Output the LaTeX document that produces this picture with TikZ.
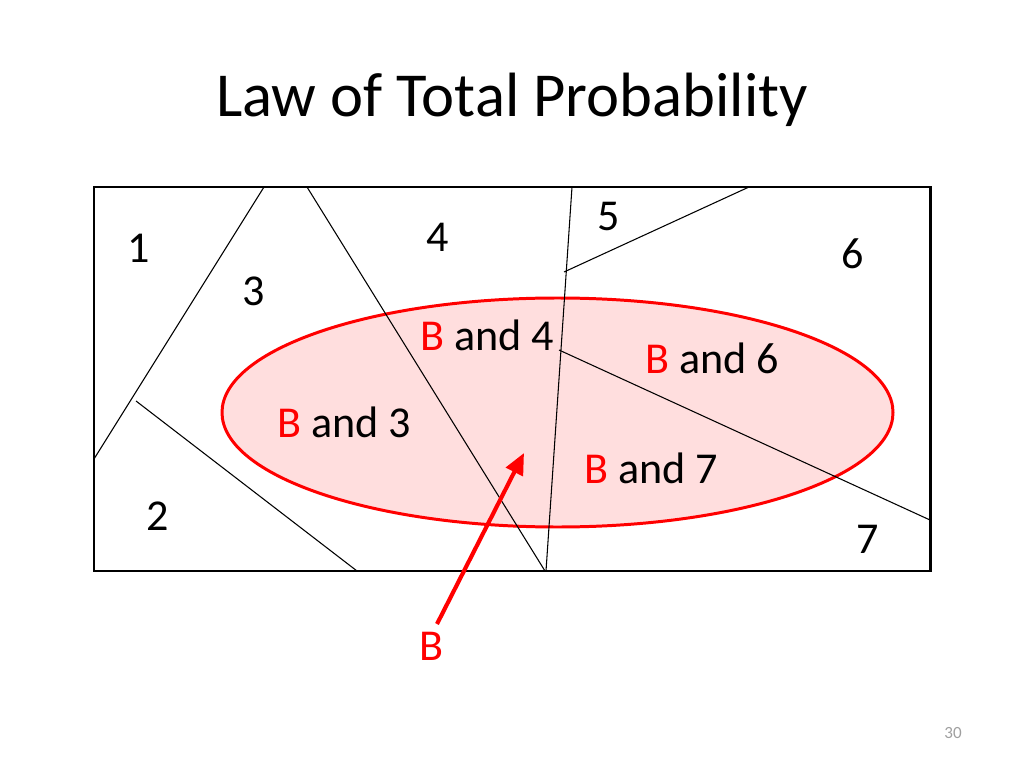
\documentclass[tikz,border=0pt]{standalone}
\usepackage{fontspec}
\setmainfont{Carlito}
\usetikzlibrary{arrows.meta}
\definecolor{bpink}{RGB}{255,222,222}
\tikzset{
  lab/.style={anchor=base, inner sep=0pt, font=\fontsize{31}{36}\selectfont},
  part/.style={draw=black, line width=0.75pt},
}
\begin{document}
\begin{tikzpicture}[x=0.703125pt, y=-0.703125pt]
\useasboundingbox (0,0) rectangle (1024,768);
% title
\node[anchor=base, inner sep=0pt, font=\fontsize{44}{50}\selectfont] (title) at (512,117) {Law of Total Probability};
% frame
\draw[line width=2.1pt, fill=white] (94,187) rectangle (930,571);
% event B
\draw[red, line width=2.1pt, fill=bpink] (557.5,412.5) ellipse [x radius=335.5, y radius=114.5];
% partition lines
\draw[part] (264,187) -- (94,459);
\draw[part] (136,401) -- (357,571);
\draw[part] (307,187) -- (545,571);
\draw[part] (572,187) -- (546,571);
\draw[part] (564,272) -- (749,187);
\draw[part] (559,350) -- (930,520);
% region labels
\node[lab] (n1) at (139,263) {1};
\node[lab] (n3) at (254,305) {3};
\node[lab] (n4) at (438,252) {4};
\node[lab] (n5) at (609,231) {5};
\node[lab] (n6) at (853,269) {6};
\node[lab] (n2) at (158,530) {2};
\node[lab] (n7) at (868,553) {7};
\node[lab] (b4) at (487,350) {{\color{red}B} and 4};
\node[lab] (b3) at (344,437) {{\color{red}B} and 3};
\node[lab] (b6) at (712,373) {{\color{red}B} and 6};
\node[lab] (b7) at (651,483) {{\color{red}B} and 7};
\node[lab, text=red] (B) at (431,660) {B};
\coordinate (tip) at (524,453);
\coordinate (tail) at (437,624);
\draw[red, line width=2.9pt, -{Triangle[length=15pt, width=13pt]}] (tail) -- (tip);
% page number
\node[anchor=base, inner sep=0pt, text=gray!75, font=\fontsize{12}{14}\selectfont] (page) at (953,738) {30};
\end{tikzpicture}
\end{document}
